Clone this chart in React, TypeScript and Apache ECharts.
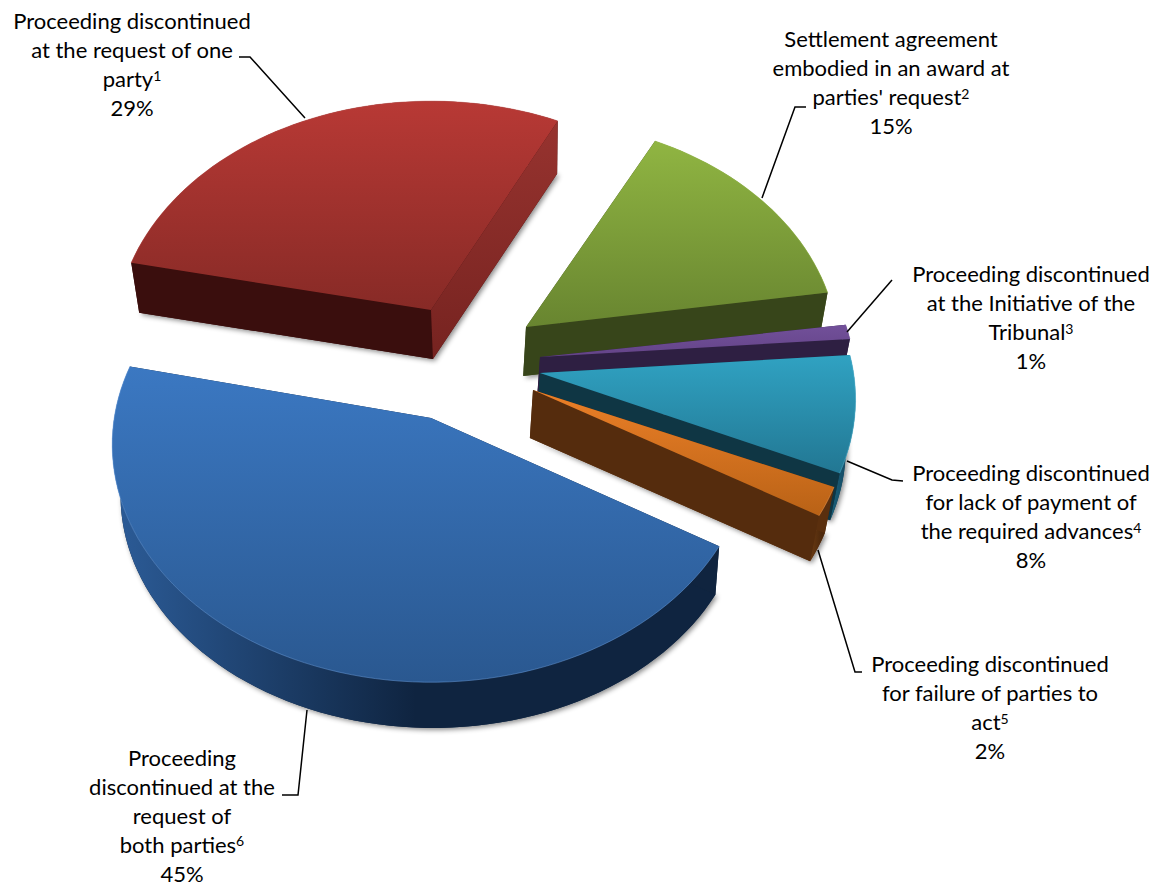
import React, { useEffect, useRef } from "react";
import * as echarts from "echarts";

// Data, in drawing order (back to front)
const names = [
  "Proceeding discontinued\nat the request of one\nparty{s|1}",
  "Settlement agreement\nembodied in an award at\nparties' request{s|2}",
  "Proceeding discontinued\nat the Initiative of the\nTribunal{s|3}",
  "Proceeding discontinued\nfor lack of payment of\nthe required advances{s|4}",
  "Proceeding discontinued\nfor failure of parties to\nact{s|5}",
  "Proceeding\ndiscontinued at the\nrequest of\nboth parties{s|6}",
];
const values = [29, 15, 1, 8, 2, 45];

// Layout of the projected 3D pie
const START_ANGLE = 192;
const CENTER = [470, 362];
const RX = 320;
const RY = 237;
const PERSPECTIVE = 0.112;
const depths = [49, 49, 49, 49, 48, 51];
const explodeDX = [-39, 56, 70, 70, 63, -39];
const explodeDY = [-52, -35, -5, 11, 28, 56];
const sliceScale = [0.98, 0.97, 0.98, 0.98, 0.98, 0.99];
const sliceRotate = [0, 0.8, 1.5, 1.5, 0.7, 1];
const topColors = [
  ["#b83935", "#872a26"],
  ["#90b542", "#688530"],
  ["#72509a", "#644488"],
  ["#30a2c2", "#227793"],
  ["#ec8028", "#b96216"],
  ["#3b78c2", "#2a5890"],
];
const rimColors = ["#c9504b", "#a0c552", "#8066a8", "#5cc0dc", "#f09a50", "#6a9ede"];
const outerColors = [
  ["#3a0e0d", "#3a0e0d"],
  ["#4d6022", "#4d6022"],
  ["#3d2a58", "#3d2a58"],
  ["#1a5f78", "#16506a"],
  ["#6a3a12", "#4c280c"],
  ["#2c5c98", "#0f2440"],
];
const startWall = ["#3a0e0d", "#3d4c1c", "#2e1f42", "#10384a", "#5a2f0e", "#10243f"];
const endWallFar = ["#97332f", "#37451a", "#2e1f42", "#0f3644", "#552c0d", "#10243f"];
const endWallNear = ["#762320", "#37451a", "#2e1f42", "#0f3644", "#552c0d", "#10243f"];

const labelCenters = [
  [132, 64],
  [891, 82],
  [1031, 317],
  [1031, 516],
  [990, 707],
  [182, 815],
];
const leaders = [
  [[239, 57], [250, 57], [305, 118]],
  [[806, 107], [795, 107], [762, 198]],
  [[892, 280], [847, 332]],
  [[847, 461], [892, 480], [903, 481]],
  [[818, 550], [855, 672], [862, 672]],
  [[307, 710], [298, 795], [282, 795]],
];

const FONT = "Lato";
const FONT_SIZE = 22;
const LINE_HEIGHT = 29;

const rad = (d: number) => (d * Math.PI) / 180;

function proj(tip: number[], t: number, s: number) {
  const a = rad(t);
  const w = 1 - PERSPECTIVE * Math.sin(a);
  return [tip[0] + (RX * s * Math.cos(a)) / w, tip[1] + (RY * s * Math.sin(a)) / w];
}
function arc(tip: number[], t0: number, t1: number, s: number) {
  const n = Math.max(2, Math.ceil(Math.abs(t1 - t0) / 2));
  const out: number[][] = [];
  for (let i = 0; i <= n; i++) out.push(proj(tip, t0 + ((t1 - t0) * i) / n, s));
  return out;
}
const vgrad = (a: string, b: string) => ({
  type: "linear", x: 0, y: 0, x2: 0, y2: 1,
  colorStops: [{ offset: 0, color: a }, { offset: 1, color: b }],
});
const hgrad = (a: string, b: string) => ({
  type: "linear", x: 0, y: 0, x2: 1, y2: 0,
  colorStops: [{ offset: 0, color: a }, { offset: 0.5, color: b }, { offset: 1, color: b }],
});

function renderSlice(params: any, api: any) {
  const i = params.dataIndex;
  const value = api.value(0);
  const before = api.value(1);
  const t0 = START_ANGLE + sliceRotate[i] + before * 3.6;
  const t1 = t0 + value * 3.6;
  const tip = [CENTER[0] + explodeDX[i], CENTER[1] + explodeDY[i]];
  const tipB = [tip[0] - (tip[0] - CENTER[0]) * 0.05, tip[1] + depths[i]];
  const s = sliceScale[i];
  const s2 = s * 0.98;
  const top = arc(tip, t0, t1, s);
  const bot = arc(tipB, t0, t1, s2);
  const poly = (points: number[][], fill: any, extra: any = {}) => ({
    type: "polygon",
    shape: { points },
    style: { fill, ...extra },
  });
  const pct = Math.round(value);
  return {
    type: "group",
    children: [
      poly([tipB, ...bot], startWall[i], {
        shadowBlur: 5, shadowOffsetX: 2, shadowOffsetY: 2, shadowColor: "rgba(0,0,0,0.45)",
      }),
      poly([...top, ...bot.slice().reverse()], hgrad(outerColors[i][0], outerColors[i][1])),
      poly([tip, top[0], bot[0], tipB], startWall[i]),
      poly([tip, top[top.length - 1], bot[bot.length - 1], tipB], vgrad(endWallFar[i], endWallNear[i])),
      poly([tip, ...top], vgrad(topColors[i][0], topColors[i][1])),
      { type: "polyline", shape: { points: top }, style: { fill: "none", stroke: rimColors[i], lineWidth: 1, opacity: 0.5 } },
      { type: "polyline", shape: { points: leaders[i] }, style: { fill: "none", stroke: "#000", lineWidth: 1.5 } },
      {
        type: "text",
        x: labelCenters[i][0],
        y: labelCenters[i][1],
        style: {
          text: `${names[i]}\n${pct}%`,
          fill: "#000",
          font: `${FONT_SIZE}px ${FONT}`,
          fontFamily: FONT,
          fontSize: FONT_SIZE,
          align: "center",
          verticalAlign: "middle",
          lineHeight: LINE_HEIGHT,
          rich: {
            s: { fontFamily: FONT, fontSize: 14, verticalAlign: "top", lineHeight: LINE_HEIGHT, padding: [4, 0, 0, 0], fill: "#000" },
          },
        },
      },
    ],
  };
}

export default function App() {
  const ref = useRef<HTMLDivElement>(null);
  useEffect(() => {
    const chart = echarts.init(ref.current!, undefined, { renderer: "svg" });
    let acc = 0;
    const data = values.map((v) => {
      const row = [v, acc];
      acc += v;
      return row;
    });
    chart.setOption({
      animation: false,
      backgroundColor: "#fff",
      series: [
        {
          type: "custom",
          coordinateSystem: "none",
          clip: false,
          silent: true,
          renderItem: renderSlice,
          data,
        },
      ],
    });
    return () => chart.dispose();
  }, []);
  return <div ref={ref} style={{ position: "fixed", left: 0, top: 0, width: 1165, height: 885 }} />;
}
